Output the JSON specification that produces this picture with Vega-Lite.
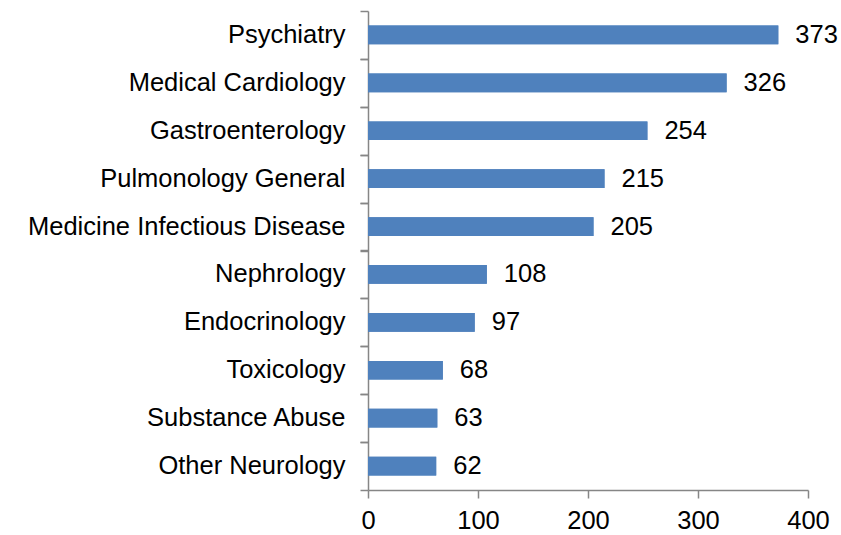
{
  "$schema": "https://vega.github.io/schema/vega-lite/v6.json",
  "width": 440,
  "height": 479,
  "autosize": {"type": "none"},
  "padding": {"left": 368, "top": 11, "right": 33, "bottom": 45},
  "background": "white",
  "config": {"view": {"stroke": null}, "font": "Liberation Sans"},
  "data": {"values": [
    {"dept": "Psychiatry", "count": 373},
    {"dept": "Medical Cardiology", "count": 326},
    {"dept": "Gastroenterology", "count": 254},
    {"dept": "Pulmonology General", "count": 215},
    {"dept": "Medicine Infectious Disease", "count": 205},
    {"dept": "Nephrology", "count": 108},
    {"dept": "Endocrinology", "count": 97},
    {"dept": "Toxicology", "count": 68},
    {"dept": "Substance Abuse", "count": 63},
    {"dept": "Other Neurology", "count": 62}
  ]},
  "resolve": {"axis": {"y": "independent"}},
  "layer": [
    {
      "mark": {"type": "bar", "color": "#4F81BD"},
      "encoding": {
        "y": {
          "field": "dept", "type": "nominal", "sort": null,
          "scale": {"paddingInner": 0.61, "paddingOuter": 0.305},
          "axis": {
            "title": null, "orient": "left", "domainColor": "#868686", "domainWidth": 1.5,
            "ticks": false, "labelFontSize": 25.5, "labelColor": "#000000", "labelPadding": 23,
            "labelFont": "Liberation Sans", "labelLimit": 400
          }
        },
        "x": {
          "field": "count", "type": "quantitative",
          "scale": {"domain": [0, 400], "nice": false},
          "axis": {
            "title": null, "values": [0, 100, 200, 300, 400], "grid": false,
            "domainColor": "#868686", "domainWidth": 1.5,
            "tickColor": "#868686", "tickWidth": 1.5, "tickSize": 8,
            "labelFontSize": 25.5, "labelColor": "#000000", "labelPadding": 10,
            "labelFont": "Liberation Sans", "labelFlush": false
          }
        }
      }
    },
    {
      "mark": {"type": "bar", "color": "#4F81BD"},
      "encoding": {
        "y": {
          "field": "dept", "type": "nominal", "sort": null,
          "axis": {
            "title": null, "orient": "left", "domain": false, "labels": false,
            "tickColor": "#868686", "tickWidth": 1.5, "tickSize": 8, "tickOffset": 23.95
          }
        },
        "x": {"field": "count", "type": "quantitative"}
      }
    },
    {
      "mark": {"type": "text", "align": "left", "baseline": "middle", "dx": 17, "fontSize": 25.5, "color": "#000000", "font": "Liberation Sans"},
      "encoding": {
        "y": {
          "field": "dept", "type": "nominal", "sort": null,
          "axis": {
            "title": null, "orient": "left", "domain": false, "labels": false,
            "tickColor": "#868686", "tickWidth": 1.5, "tickSize": 8, "tickOffset": -23.95
          }
        },
        "x": {"field": "count", "type": "quantitative"},
        "text": {"field": "count", "type": "quantitative"}
      }
    }
  ]
}
